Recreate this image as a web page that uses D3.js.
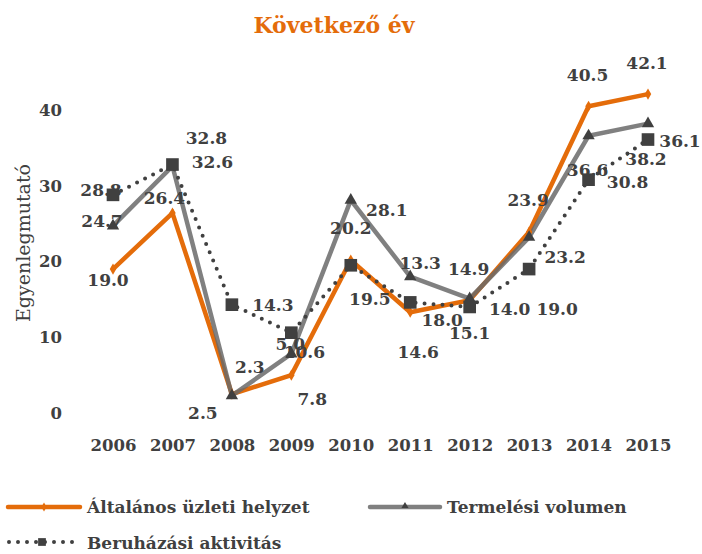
<!DOCTYPE html>
<html>
<head>
<meta charset="utf-8">
<script src="https://cdn.jsdelivr.net/npm/d3@7"></script>
<style>
  body { margin: 0; background: #fff; }
  text { font-family: "DejaVu Serif", serif; fill: #404040; }
</style>
</head>
<body>
<div id="chart"></div>
<script>
const years = [2006, 2007, 2008, 2009, 2010, 2011, 2012, 2013, 2014, 2015];
const general = [19.0, 26.4, 2.5, 5.0, 20.2, 13.3, 14.9, 23.9, 40.5, 42.1];
const production = [24.7, 32.6, 2.3, 7.8, 28.1, 18.0, 15.1, 23.2, 36.6, 38.2];
const investment = [28.8, 32.8, 14.3, 10.6, 19.5, 14.6, 14.0, 19.0, 30.8, 36.1];
const yTicks = [0, 10, 20, 30, 40];

// where each data label sits, relative to its point (px)
const generalLabelPos = [[-5, 11], [-8, -15], [-29, 19], [-1, -31], [0, -32], [10, -49], [-1, -31], [-1, -32], [-1, -31], [-1, -31]];
const productionLabelPos = [[-11, -5], [40, -4], [18, -29], [21, 45], [36, 10], [32, 43], [0, 34], [36, 20], [-1, 34], [-2, 35]];
const investmentLabelPos = [[-12, -5], [34, -27], [41, 0], [13, 19], [19, 34], [8, 49], [40, 2], [28, 40], [39, 2], [32, 1]];

const width = 702, height = 554;
const orange = "#E46C0A", grey = "#6a6a6a", dark = "#404040";

const svg = d3.select("#chart")
    .append("svg")
    .attr("width", width)
    .attr("height", height);

const x = d3.scalePoint()
    .domain(years)
    .range([113, 648]);

const y = d3.scaleLinear()
    .domain([0, 40])
    .range([413, 110]);

// title
svg.append("text")
    .attr("x", 334)
    .attr("y", 33)
    .attr("text-anchor", "middle")
    .style("font-size", "22px")
    .style("font-weight", "bold")
    .style("fill", orange)
    .text("Következő év");

// axes
const yAxis = svg.append("g")
    .attr("transform", "translate(70,0)")
    .call(d3.axisLeft(y).tickValues(yTicks).tickSize(0).tickPadding(8));
const xAxis = svg.append("g")
    .attr("transform", "translate(0,413)")
    .call(d3.axisBottom(x).tickSize(0).tickPadding(26));
[yAxis, xAxis].forEach(a => {
    a.select(".domain").remove();
    a.selectAll("text")
        .style("font-family", "DejaVu Serif")
        .style("font-size", "16.5px")
        .style("font-weight", "bold")
        .style("fill", dark);
});

svg.append("text")
    .attr("transform", "translate(23,243) rotate(-90)")
    .attr("text-anchor", "middle")
    .attr("dy", "0.35em")
    .style("font-size", "19px")
    .text("Egyenlegmutató");

const line = d3.line()
    .x((d, i) => x(years[i]))
    .y(d => y(d));

// lines
svg.append("path")
    .datum(general)
    .attr("d", line)
    .attr("fill", "none")
    .attr("stroke", orange)
    .attr("stroke-width", 4.5);

svg.append("path")
    .datum(production)
    .attr("d", line)
    .attr("fill", "none")
    .attr("stroke", grey)
    .attr("stroke-opacity", 0.85)
    .attr("stroke-width", 4.5);

svg.append("path")
    .datum(investment)
    .attr("d", line)
    .attr("fill", "none")
    .attr("stroke", dark)
    .attr("stroke-width", 4)
    .attr("stroke-linecap", "round")
    .attr("stroke-dasharray", "0 9");

// markers
svg.selectAll(".m-gen")
    .data(general)
    .enter()
    .append("path")
    .attr("class", "m-gen")
    .attr("transform", (d, i) => `translate(${x(years[i])},${y(d)})`)
    .attr("d", d3.symbol(d3.symbolDiamond, 36))
    .attr("fill", orange);

svg.selectAll(".m-prod")
    .data(production)
    .enter()
    .append("path")
    .attr("class", "m-prod")
    .attr("transform", (d, i) => `translate(${x(years[i])},${y(d)})`)
    .attr("d", d3.symbol(d3.symbolTriangle, 66))
    .attr("fill", dark);

svg.selectAll(".m-inv")
    .data(investment)
    .enter()
    .append("path")
    .attr("class", "m-inv")
    .attr("transform", (d, i) => `translate(${x(years[i])},${y(d)})`)
    .attr("d", d3.symbol(d3.symbolSquare, 160))
    .attr("fill", dark);

// data labels
function addLabels(values, pos, cls) {
    svg.selectAll("." + cls)
        .data(values)
        .enter()
        .append("text")
        .attr("class", cls)
        .attr("x", (d, i) => x(years[i]) + pos[i][0])
        .attr("y", (d, i) => y(d) + pos[i][1])
        .attr("dy", "0.36em")
        .attr("text-anchor", "middle")
        .style("font-size", "17px")
        .style("font-weight", "bold")
        .text(d => d.toFixed(1));
}
addLabels(general, generalLabelPos, "l-gen");
addLabels(production, productionLabelPos, "l-prod");
addLabels(investment, investmentLabelPos, "l-inv");

// legend
const legend = svg.append("g").style("font-size", "17px").style("font-weight", "bold");

legend.append("line").attr("x1", 8).attr("x2", 80).attr("y1", 507).attr("y2", 507)
    .attr("stroke", orange).attr("stroke-width", 4.5).attr("stroke-linecap", "round");
legend.append("path").attr("transform", "translate(44,507)")
    .attr("d", d3.symbol(d3.symbolDiamond, 24)).attr("fill", orange);
legend.append("text").attr("x", 87).attr("y", 513).text("Általános üzleti helyzet");

legend.append("line").attr("x1", 370).attr("x2", 440).attr("y1", 507).attr("y2", 507)
    .attr("stroke", grey).attr("stroke-opacity", 0.85).attr("stroke-width", 4.5).attr("stroke-linecap", "round");
legend.append("path").attr("transform", "translate(405,506)")
    .attr("d", d3.symbol(d3.symbolTriangle, 22)).attr("fill", dark);
legend.append("text").attr("x", 447).attr("y", 513).text("Termelési volumen");

legend.append("line").attr("x1", 9).attr("x2", 80).attr("y1", 542).attr("y2", 542)
    .attr("stroke", dark).attr("stroke-width", 4).attr("stroke-linecap", "round")
    .attr("stroke-dasharray", "0 9");
legend.append("path").attr("transform", "translate(42,542)")
    .attr("d", d3.symbol(d3.symbolSquare, 60)).attr("fill", dark);
legend.append("text").attr("x", 87).attr("y", 549).text("Beruházási aktivitás");
</script>
</body>
</html>
